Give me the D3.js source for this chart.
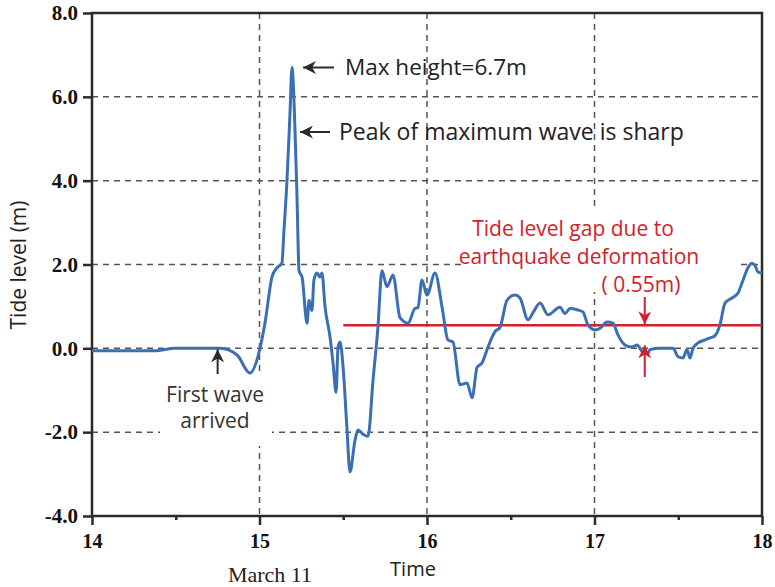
<!DOCTYPE html>
<html>
<head>
  <meta http-equiv="Content-Type" content="text/html;charset=utf-8" />
  <style type="text/css">
    body { margin: 0; background: #fff; }
    .sans { font-family: "Open Sans", "Noto Sans", sans-serif; }
    .serif { font-family: "Liberation Serif", "DejaVu Serif", serif; }
  </style>
</head>
<body>
  <div id="svgContainer"></div>
  <script src="https://d3js.org/d3.v7.min.js"></script>
  <script type="text/javascript">
    // tide gauge record, time in hours (Mar 11), level in m
    var time = [14.000, 14.376, 14.496, 14.764, 14.866, 14.943, 15.003, 15.033, 15.075, 15.104,
      15.134, 15.146, 15.164, 15.182, 15.194, 15.212, 15.224, 15.236, 15.254, 15.284,
      15.296, 15.313, 15.325, 15.343, 15.361, 15.373, 15.391, 15.421, 15.439, 15.457,
      15.469, 15.481, 15.499, 15.522, 15.540, 15.570, 15.588, 15.618, 15.648, 15.678,
      15.707, 15.731, 15.761, 15.797, 15.839, 15.887, 15.928, 15.946, 15.970, 16.000,
      16.048, 16.090, 16.125, 16.155, 16.197, 16.239, 16.269, 16.299, 16.328, 16.364,
      16.406, 16.436, 16.478, 16.525, 16.555, 16.603, 16.633, 16.675, 16.722, 16.794,
      16.824, 16.854, 16.896, 16.931, 16.961, 17.003, 17.033, 17.075, 17.110, 17.140,
      17.182, 17.224, 17.254, 17.290, 17.319, 17.331, 17.391, 17.469, 17.499, 17.528,
      17.552, 17.570, 17.588, 17.618, 17.660, 17.690, 17.719, 17.749, 17.779, 17.821,
      17.857, 17.887, 17.916, 17.940, 17.958, 17.976, 18.000];
    var level = [-0.06, -0.06, 0.0, 0.0, -0.16, -0.59, 0.0, 0.61, 1.71, 1.92,
      2.04, 2.8, 4.0, 5.6, 6.7, 5.2, 3.6, 1.85, 1.7, 0.6,
      1.15, 0.9, 1.63, 1.8, 1.7, 1.8, 1.0, 0.27, -0.35, -1.05,
      0.03, 0.15, -0.45, -1.9, -2.95, -2.2, -1.95, -2.05, -2.1, -0.75,
      0.5, 1.85, 1.47, 1.75, 0.73, 0.6, 0.95, 0.97, 1.63, 1.27,
      1.8, 0.98, 0.2, 0.15, -0.87, -0.83, -1.18, -0.45, -0.35, 0.03,
      0.4, 0.5, 1.15, 1.27, 1.2, 0.68, 0.85, 1.08, 0.8, 0.98,
      0.83, 0.95, 0.92, 0.87, 0.56, 0.44, 0.48, 0.63, 0.6, 0.32,
      0.08, 0.03, 0.08, -0.1, -0.12, -0.03, 0.0, 0.0, -0.2, -0.23,
      -0.03, -0.23, 0.0, 0.13, 0.2, 0.25, 0.3, 0.56, 1.08, 1.2,
      1.32, 1.63, 1.92, 2.03, 1.98, 1.82, 1.8];

    var xTicks = [14, 15, 16, 17, 18];
    var xMinor = [14.5, 15.5, 16.5, 17.5];
    var yTicks = [-4, -2, 0, 2, 4, 6, 8];
    var gapLevel = 0.55;   // tide level gap (m)
    var gapStart = 15.5;

    var w = 775, h = 587;
    var pL = 92, pR = 762, pT = 13, pB = 516;
    var blue = "#3a6fb4", red = "#d3212b", ink = "#2f2927";

    var svg = d3.select("#svgContainer")
      .append("svg")
      .attr("width", w)
      .attr("height", h);

    var x = d3.scaleLinear().domain([14, 18]).range([pL, pR]);
    var y = d3.scaleLinear().domain([-4, 8]).range([pB, pT]);

    var defs = svg.append("defs");
    function marker(id, color) {
      defs.append("marker")
        .attr("id", id)
        .attr("viewBox", "0 0 10 10")
        .attr("refX", 10).attr("refY", 5)
        .attr("markerWidth", 13).attr("markerHeight", 13)
        .attr("markerUnits", "userSpaceOnUse")
        .attr("orient", "auto")
        .append("path")
        .attr("d", "M0,0 L10,5 L0,10 L3,5 Z")
        .attr("fill", color);
    }
    marker("arrBlack", ink);
    marker("arrRed", red);

    // grid
    var grid = svg.append("g").attr("stroke", "#555").attr("stroke-width", 1.5)
      .attr("stroke-dasharray", "6,5");
    grid.selectAll(".hg").data(yTicks.filter(function (d) { return d > -4 && d < 8; }))
      .enter().append("line")
      .attr("x1", pL).attr("x2", pR)
      .attr("y1", function (d) { return y(d); }).attr("y2", function (d) { return y(d); });
    grid.selectAll(".vg").data(xTicks.filter(function (d) { return d > 14 && d < 18; }))
      .enter().append("line")
      .attr("y1", pT).attr("y2", pB)
      .attr("x1", function (d) { return x(d); }).attr("x2", function (d) { return x(d); });

    // white boxes behind annotation text
    svg.append("rect").attr("x", 160).attr("y", 372).attr("width", 112).attr("height", 74).attr("fill", "#fff");
    svg.append("rect").attr("x", 465).attr("y", 206).attr("width", 272).attr("height", 86).attr("fill", "#fff");

    // axes
    var fmtY = function (d) { return d3.format(".1f")(d).replace("\u2212", "-"); };
    var yAxis = svg.append("g").attr("transform", "translate(" + pL + ",0)")
      .call(d3.axisLeft(y).tickValues(yTicks).tickFormat(fmtY).tickSize(9).tickSizeOuter(0).tickPadding(5));
    var xAxis = svg.append("g").attr("transform", "translate(0," + pB + ")")
      .call(d3.axisBottom(x).tickValues(xTicks).tickFormat(d3.format("d")).tickSize(9).tickSizeOuter(0).tickPadding(6));
    svg.append("g").attr("transform", "translate(0," + pB + ")")
      .call(d3.axisBottom(x).tickValues(xMinor).tickFormat("").tickSize(4).tickSizeOuter(0))
      .select(".domain").remove();

    [yAxis, xAxis].forEach(function (g) {
      g.select(".domain").remove();
      g.selectAll("text").attr("class", "serif")
        .style("font-weight", "bold").attr("fill", "#111");
    });
    yAxis.selectAll("text").style("font-size", "21px");
    xAxis.selectAll("text").style("font-size", "20px").attr("dy", "0.85em");
    svg.selectAll(".tick line").attr("stroke", ink).attr("stroke-width", 2.5);

    // frame
    svg.append("rect").attr("x", pL).attr("y", pT)
      .attr("width", pR - pL).attr("height", pB - pT)
      .attr("fill", "none").attr("stroke", ink).attr("stroke-width", 2.5);

    // gap line
    svg.append("line")
      .attr("x1", x(gapStart)).attr("x2", x(18))
      .attr("y1", y(gapLevel)).attr("y2", y(gapLevel))
      .attr("stroke", red).attr("stroke-width", 2.5);

    // tide curve
    var data = time.map(function (t, i) { return [t, level[i]]; });
    var line = d3.line()
      .x(function (d) { return x(d[0]); })
      .y(function (d) { return y(d[1]); })
      .curve(d3.curveMonotoneX);
    svg.append("path")
      .attr("d", line(data))
      .attr("fill", "none")
      .attr("stroke", blue)
      .attr("stroke-width", 3)
      .attr("stroke-linejoin", "round");

    // annotations
    function arrow(x1, y1, x2, y2, id, color) {
      svg.append("line")
        .attr("x1", x1).attr("y1", y1).attr("x2", x2).attr("y2", y2)
        .attr("stroke", color).attr("stroke-width", 2)
        .attr("marker-end", "url(#" + id + ")");
    }
    function label(tx, ty, str, size, color, anchor) {
      return svg.append("text").attr("class", "sans")
        .attr("x", tx).attr("y", ty)
        .attr("text-anchor", anchor || "start")
        .style("font-size", size + "px")
        .attr("fill", color)
        .text(str);
    }

    arrow(334, y(6.7), 303, y(6.7), "arrBlack", ink);
    label(345, y(6.7) + 8, "Max height=6.7m", 22.5, "#222");
    arrow(330, 132, 300, 132, "arrBlack", ink);
    label(339, 140, "Peak of maximum wave is sharp", 23, "#222");

    arrow(x(14.75), 374, x(14.75), y(0) + 1, "arrBlack", ink);
    label(215, 402, "First wave", 21, "#333", "middle");
    label(215, 428, "arrived", 21, "#333", "middle");

    label(573, 236, "Tide level gap due to", 21, red, "middle");
    label(579, 264, "earthquake deformation", 21, red, "middle");
    label(641, 292, "( 0.55m)", 21, red, "middle");
    arrow(x(17.3), 297, x(17.3), y(gapLevel) - 1, "arrRed", red);
    arrow(x(17.3), 377, x(17.3), y(0) - 3, "arrRed", red);

    // axis titles
    label(413, 576, "Time", 20, "#222", "middle");
    svg.append("text").attr("class", "serif")
      .attr("x", 270).attr("y", 582).attr("text-anchor", "middle")
      .style("font-size", "22px").attr("fill", "#222")
      .text("March 11");
    svg.append("text").attr("class", "sans")
      .attr("transform", "translate(26," + 265 + ") rotate(-90)")
      .attr("text-anchor", "middle")
      .style("font-size", "21px").attr("fill", "#222")
      .text("Tide level (m)");
  </script>
</body>
</html>
